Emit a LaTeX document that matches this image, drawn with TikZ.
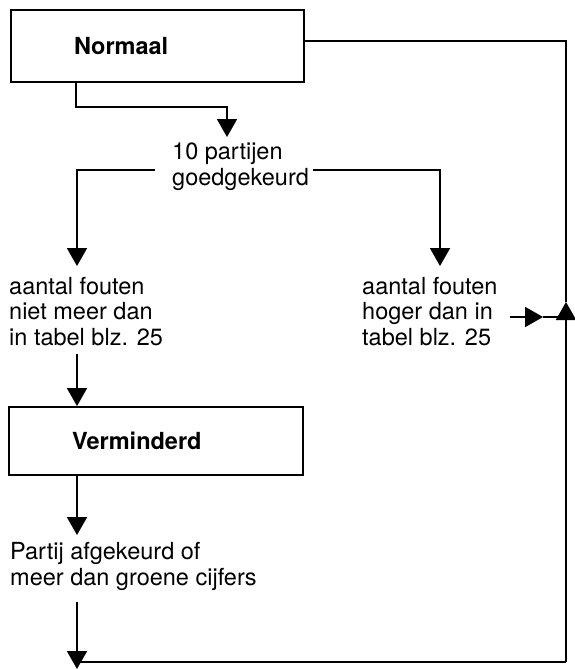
\documentclass[tikz,border=0pt]{standalone}
\usepackage{fontspec}
\setmainfont{TeX Gyre Heros}
\usetikzlibrary{arrows.meta}
\tikzset{
  line/.style={line width=1.9pt, draw=black},
  arr/.style={line width=1.9pt, -{Triangle[width=20pt,length=18pt]}},
  flowbox/.style={draw, line width=1.9pt, rectangle, inner xsep=63pt, inner ysep=0pt,
    text width=167pt, align=left, font=\fontsize{23.5}{25.5}\selectfont\bfseries},
  txt/.style={inner sep=0pt, align=left, anchor=base west, font=\fontsize{23.5}{25.5}\selectfont}
}
\begin{document}
\begin{tikzpicture}[x=1pt,y=1pt]
\useasboundingbox (0,0) rectangle (575,-669);
% boxes
\node[flowbox, minimum width=293pt, minimum height=72pt] (normaal) at (157.5,-46) {Normaal};
\node[flowbox, minimum width=294pt, minimum height=68pt, text width=168pt] (verminderd) at (156,-441) {Verminderd};
% texts (anchored at the baseline of the last line)
\node[txt] (partijen) at (172,-185) {10 partijen\\goedgekeurd};
\node[txt] (nietmeer) at (9,-345) {aantal fouten\\niet meer dan\\in tabel blz. 25};
\node[txt] (hoger) at (362,-345) {aantal fouten\\hoger dan in\\tabel blz. 25};
\node[txt] (partij) at (10,-585) {Partij afgekeurd of\\meer dan groene cijfers};
% coordinates
\coordinate (s0) at ([xshift=66pt]normaal.south west);
\coordinate (s1) at (227,-107);
\coordinate (s2) at (227,-137);
\coordinate (l0) at (155,-170);
\coordinate (l1) at (77,-170);
\coordinate (l2) at (77,-266);
\coordinate (r0) at (313,-170);
\coordinate (r1) at (440,-170);
\coordinate (r2) at (440,-266);
\coordinate (h0) at (510,-317);
\coordinate (h1) at (543,-317);
\coordinate (jn) at (566,-317);
\coordinate (tr) at (566,-41);
\coordinate (up) at (566,-302);
\coordinate (br) at (566,-662);
\coordinate (n0) at (77,-354);
\coordinate (v1) at (77,-535);
\coordinate (p0) at (77,-602);
\coordinate (p1) at (77,-669);
\coordinate (b0) at (77,-662);
% connectors
\draw[arr] (s0) |- (s1) -- (s2);
\draw[arr] (l0) -- (l1) -- (l2);
\draw[arr] (r0) -- (r1) -- (r2);
\draw[arr] (n0) -- (verminderd.north -| n0);
\draw[arr] (verminderd.south -| n0) -- (v1);
\draw[arr] (p0) -- (p1);
\draw[line] (b0) -- (br);
\draw[arr] (br) -- (up);
\draw[line] (up) -- (tr) -- (normaal.east |- tr);
\draw[arr] (h0) -- (h1);
\draw[line] (h1) -- (jn);
\end{tikzpicture}
\end{document}
